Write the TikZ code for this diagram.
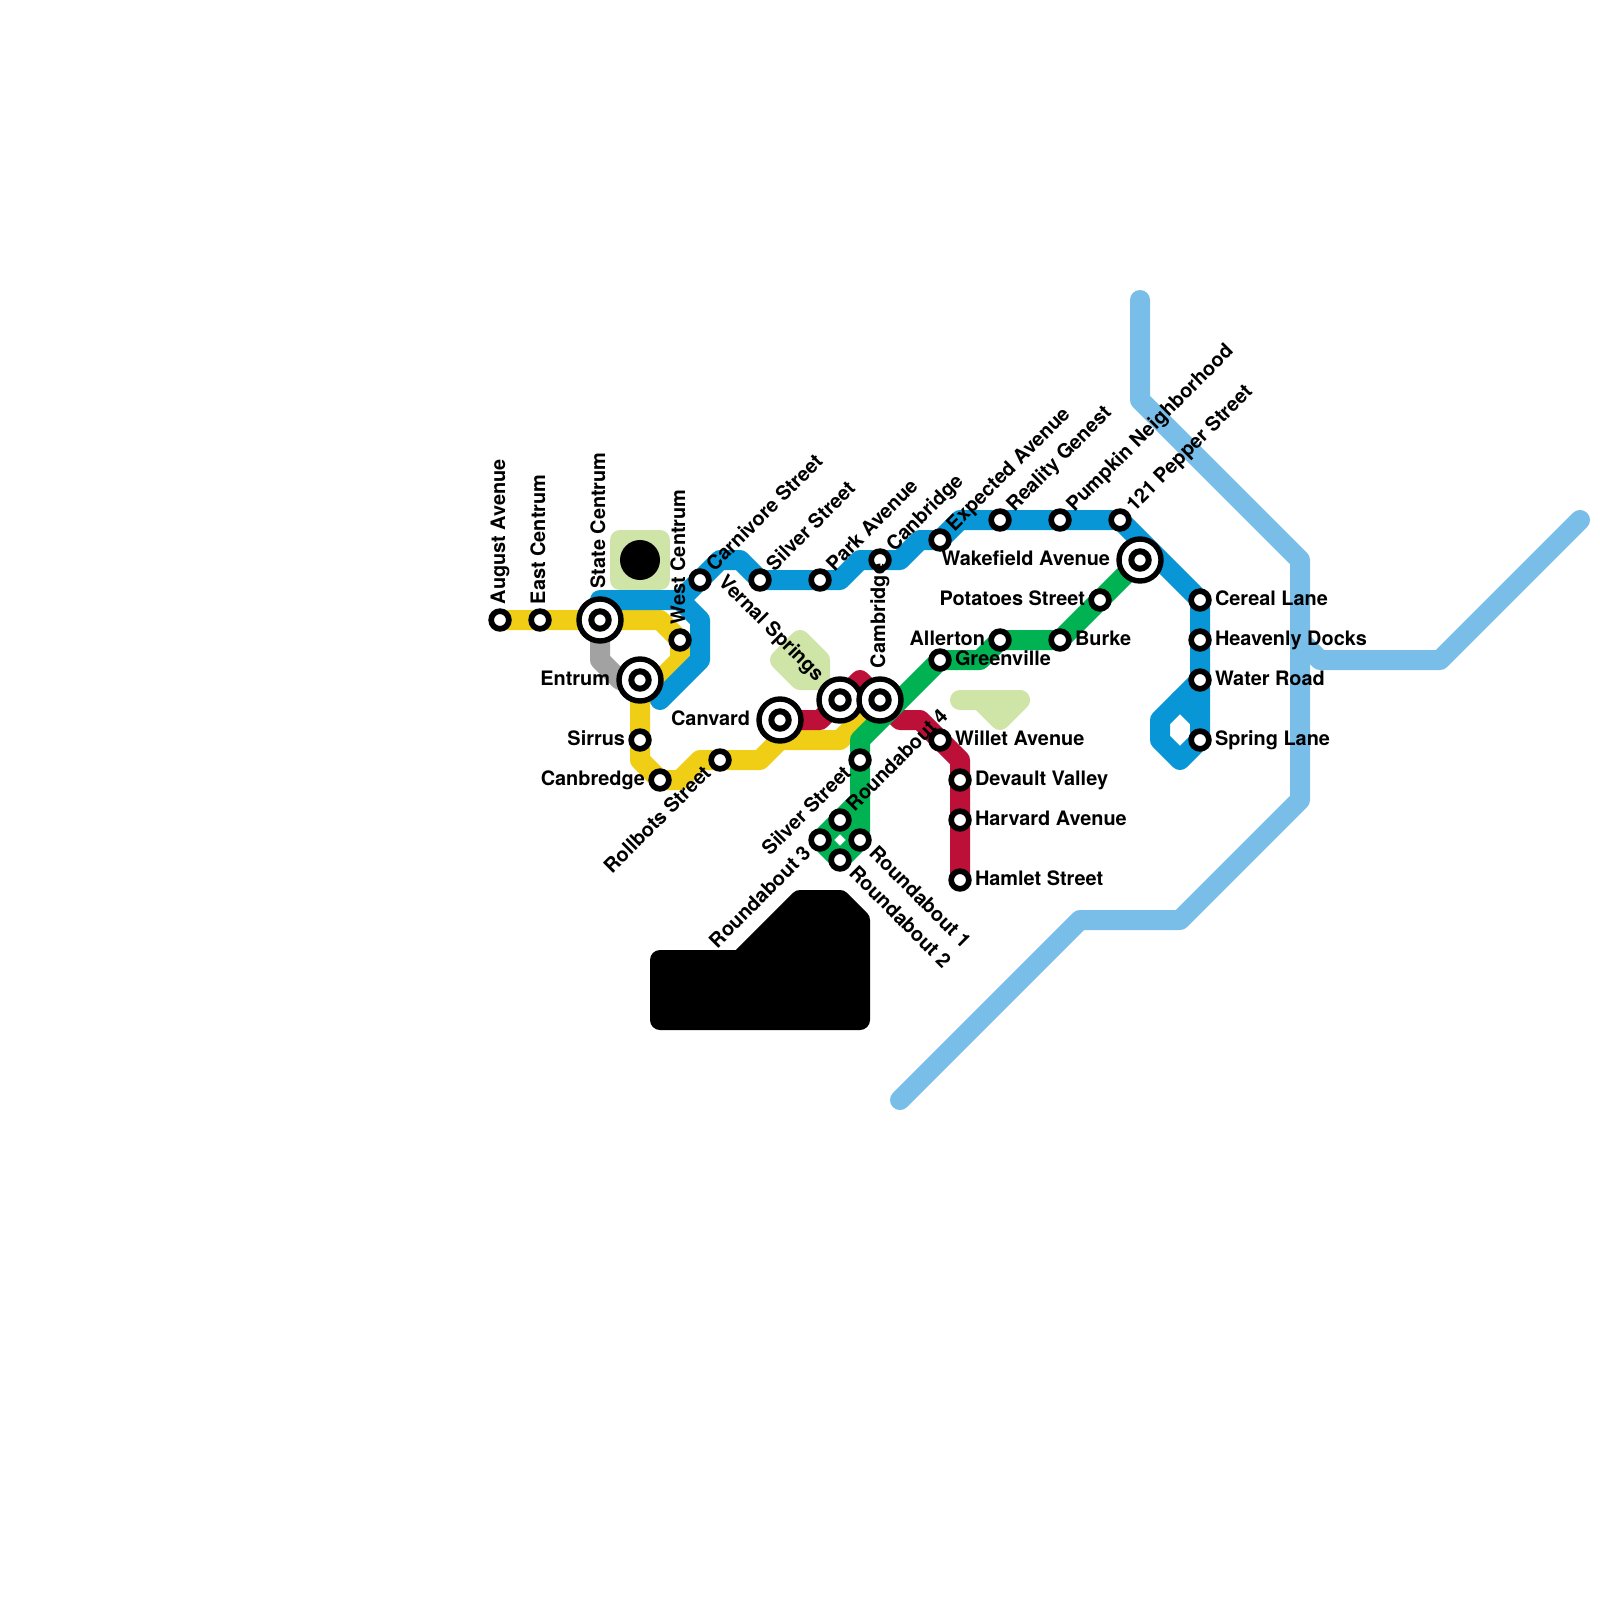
\documentclass[tikz,border=0pt]{standalone}
\usepackage{fontspec}
\setmainfont{TeX Gyre Heros}
\usetikzlibrary{backgrounds}
\definecolor{lineBlue}{HTML}{0896D7}
\definecolor{lineYellow}{HTML}{F0CE15}
\definecolor{lineRed}{HTML}{BD1038}
\definecolor{lineGreen}{HTML}{00B251}
\definecolor{lineGrey}{HTML}{A2A2A2}
\definecolor{riverBlue}{HTML}{79BDE9}
\definecolor{parkGreen}{HTML}{CFE4A7}

\begin{document}
\begin{tikzpicture}[
    x=0.5pt, y=-0.5pt,
    stn/.style={
        circle, draw=black, fill=white, line width=2.85pt,
        minimum size=8.85pt, inner sep=0pt
    },
    hub/.style={
        circle, draw=black, fill=white, line width=2.7pt,
        minimum size=21pt, inner sep=0pt
    },
    hubcore/.style={
        circle, draw=black, fill=white, line width=3pt,
        minimum size=8.7pt, inner sep=0pt
    },
    stnname/.style={
        font=\fontsize{9.95}{11}\selectfont\bfseries, text=black,
        inner sep=0pt, outer sep=0pt
    },
    namefwd/.style={stnname, anchor=base west},
    nameback/.style={stnname, anchor=base east},
    metro/.style={line width=10pt, line cap=round, line join=round},
    parkarea/.style={draw=parkGreen, fill=parkGreen, line width=10pt, line join=round},
]
\useasboundingbox (0,0) rectangle (1600,1600);

% ============================================================
%  STATIONS
% ============================================================
\node[stn] (august) at (500,620) {};
\node[stn] (eastC) at (540,620) {};
\node[hub] (stateC) at (600,620) {};
\node[hubcore] (stateCin) at (600,620) {};
\node[stn] (westC) at (680,640) {};
\node[hub] (entrum) at (640,680) {};
\node[hubcore] (entrumin) at (640,680) {};
\node[stn] (sirrus) at (640,740) {};
\node[stn] (canbredge) at (660,780) {};
\node[stn] (rollbots) at (720,760) {};
\node[hub] (canvard) at (780,720) {};
\node[hubcore] (canvardin) at (780,720) {};
\node[hub] (vernal) at (840,700) {};
\node[hubcore] (vernalin) at (840,700) {};
\node[hub] (cambridge) at (880,700) {};
\node[hubcore] (cambridgein) at (880,700) {};

\node[stn] (carnivore) at (700,580) {};
\node[stn] (silverN) at (760,580) {};
\node[stn] (park) at (820,580) {};
\node[stn] (canbridge) at (880,560) {};
\node[stn] (expected) at (940,540) {};
\node[stn] (reality) at (1000,520) {};
\node[stn] (pumpkin) at (1060,520) {};
\node[stn] (pepper) at (1120,520) {};
\node[hub] (wakefield) at (1140,560) {};
\node[hubcore] (wakefieldin) at (1140,560) {};
\node[stn] (cereal) at (1200,600) {};
\node[stn] (heavenly) at (1200,640) {};
\node[stn] (water) at (1200,680) {};
\node[stn] (spring) at (1200,740) {};

\node[stn] (potatoes) at (1100,600) {};
\node[stn] (burke) at (1060,640) {};
\node[stn] (allerton) at (1000,640) {};
\node[stn] (greenville) at (940,660) {};
\node[stn] (silverS) at (860,760) {};
\node[stn] (round4) at (840,820) {};
\node[stn] (round1) at (860,840) {};
\node[stn] (round2) at (840,860) {};
\node[stn] (round3) at (820,840) {};

\node[stn] (willet) at (940,740) {};
\node[stn] (devault) at (960,780) {};
\node[stn] (harvard) at (960,820) {};
\node[stn] (hamlet) at (960,880) {};

% ============================================================
%  STATION NAMES
% ============================================================
\node[namefwd, rotate=90] (augustL) at (505,604) {August Avenue};
\node[namefwd, rotate=90] (eastCL) at (545,604) {East Centrum};
\node[namefwd, rotate=90] (stateCL) at (605,588.5) {State Centrum};
\node[namefwd, rotate=90] (westCL) at (685,624) {West Centrum};
\node[namefwd, rotate=90] (cambridgeL) at (885,668) {Cambridge};

\node[namefwd, rotate=45] (carnivoreL) at (714.5,572) {Carnivore Street};
\node[namefwd, rotate=45] (silverNL) at (774.5,572) {Silver Street};
\node[namefwd, rotate=45] (parkL) at (834.5,572) {Park Avenue};
\node[namefwd, rotate=45] (canbridgeL) at (894.5,552) {Canbridge};
\node[namefwd, rotate=45] (expectedL) at (954.5,532) {Expected Avenue};
\node[namefwd, rotate=45] (realityL) at (1014.5,512) {Reality Genest};
\node[namefwd, rotate=45] (pumpkinL) at (1074.5,512) {Pumpkin Neighborhood};
\node[namefwd, rotate=45] (pepperL) at (1134.5,512) {121 Pepper Street};
\node[namefwd, rotate=45] (round4L) at (854.5,812) {Roundabout 4};

\node[nameback, rotate=45] (rollbotsL) at (712,774.5) {Rollbots Street};
\node[nameback, rotate=45] (silverSL) at (852,774.5) {Silver Street};
\node[nameback, rotate=45] (round3L) at (812,854.5) {Roundabout 3};

\node[namefwd, rotate=-45] (round1L) at (868,854.5) {Roundabout 1};
\node[namefwd, rotate=-45] (round2L) at (848,874.5) {Roundabout 2};
\node[nameback, rotate=-45] (vernalL) at (816,682) {Vernal Springs};

\node[nameback] (entrumL) at (610,685) {Entrum};
\node[nameback] (sirrusL) at (625,745) {Sirrus};
\node[nameback] (canbredgeL) at (645,785) {Canbredge};
\node[nameback] (canvardL) at (750,725) {Canvard};
\node[nameback] (wakefieldL) at (1110,565) {Wakefield Avenue};
\node[nameback] (potatoesL) at (1085,605) {Potatoes Street};
\node[nameback] (allertonL) at (985,645) {Allerton};

\node[namefwd] (burkeL) at (1075,645) {Burke};
\node[namefwd] (greenvilleL) at (955,665) {Greenville};
\node[namefwd] (willetL) at (955,745) {Willet Avenue};
\node[namefwd] (devaultL) at (975,785) {Devault Valley};
\node[namefwd] (harvardL) at (975,825) {Harvard Avenue};
\node[namefwd] (hamletL) at (975,885) {Hamlet Street};
\node[namefwd] (cerealL) at (1215,605) {Cereal Lane};
\node[namefwd] (heavenlyL) at (1215,645) {Heavenly Docks};
\node[namefwd] (waterL) at (1215,685) {Water Road};
\node[namefwd] (springL) at (1215,745) {Spring Lane};

% ============================================================
%  BENDS
% ============================================================
\coordinate (yA) at (660,620);
\coordinate (yB) at (680,660);
\coordinate (yI) at (640,700);
\coordinate (yC) at (640,760);
\coordinate (yD) at (680,780);
\coordinate (yE) at (700,760);
\coordinate (yF) at (760,760);
\coordinate (yG) at (780,740);
\coordinate (yH) at (840,740);
\coordinate (bA) at (600,600);
\coordinate (bB) at (680,600);
\coordinate (bC) at (700,620);
\coordinate (bD) at (700,660);
\coordinate (bE) at (660,700);
\coordinate (bF) at (720,560);
\coordinate (bG) at (740,560);
\coordinate (bH) at (840,580);
\coordinate (bI) at (860,560);
\coordinate (bJ) at (900,560);
\coordinate (bK) at (920,540);
\coordinate (bL) at (960,520);
\coordinate (bM) at (1160,720);
\coordinate (bN) at (1160,740);
\coordinate (bO) at (1180,760);
\coordinate (bP) at (1180,700);
\coordinate (bQ) at (1200,720);
\coordinate (rA) at (820,720);
\coordinate (rB) at (860,680);
\coordinate (rC) at (900,720);
\coordinate (rD) at (920,720);
\coordinate (rE) at (960,760);
\coordinate (gA) at (980,660);
\coordinate (gB) at (860,740);
\coordinate (gC) at (860,800);
\coordinate (aA) at (600,660);
\coordinate (aB) at (620,680);

% ============================================================
%  LINES
% ============================================================
\begin{scope}[on background layer]
    % water
    \draw[metro, riverBlue] (1140,300) -- (1140,400) -- (1300,560) -- (1300,800)
        -- (1180,920) -- (1080,920) -- (900,1100);
    \draw[metro, riverBlue] (1300,640) -- (1320,660) -- (1440,660) -- (1580,520);

    % parks
    \draw[parkarea] (620,540) -- (660,540) -- (660,580) -- (620,580) -- cycle;
    \draw[parkarea] (800,640) -- (820,660) -- (820,680) -- (800,680) -- (780,660) -- cycle;
    \draw[parkarea] (960,700) -- (1020,700) -- (1000,720) -- (980,700) -- cycle;
    \fill[black] (640,560) circle (20);
    \draw[black, fill=black, line width=10pt, line join=round] (660,960) -- (740,960)
        -- (800,900) -- (840,900) -- (860,920) -- (860,1020) -- (660,1020) -- cycle;

    % grey
    \draw[metro, lineGrey] (stateC.center) -- (aA) -- (aB) -- (entrum.center);

    % yellow
    \draw[metro, lineYellow] (august.center) -- (eastC.center) -- (stateC.center) -- (yA)
        -- (westC.center) -- (yB) -- (yI) -- (sirrus.center) -- (yC)
        -- (canbredge.center) -- (yD) -- (yE) -- (rollbots.center) -- (yF) -- (yG)
        -- (yH) -- (cambridge.center);

    % red
    \draw[metro, lineRed] (canvard.center) -- (rA) -- (vernal.center) -- (rB)
        -- (cambridge.center) -- (rC) -- (rD) -- (willet.center) -- (rE)
        -- (devault.center) -- (harvard.center) -- (hamlet.center);

    % blue
    \draw[metro, lineBlue] (stateC.center) -- (bA) -- (bB) -- (bC) -- (bD) -- (bE);
    \draw[metro, lineBlue] (bB) -- (carnivore.center) -- (bF) -- (bG) -- (silverN.center)
        -- (park.center) -- (bH) -- (bI) -- (canbridge.center) -- (bJ) -- (bK)
        -- (expected.center) -- (bL) -- (reality.center) -- (pumpkin.center)
        -- (pepper.center) -- (cereal.center) -- (heavenly.center)
        -- (water.center) -- (spring.center) -- (bO) -- (bN) -- (bM) -- (water.center);
    \draw[metro, lineBlue] (bP) -- (bQ);

    % green
    \draw[metro, lineGreen] (wakefield.center) -- (potatoes.center) -- (burke.center)
        -- (allerton.center) -- (gA) -- (greenville.center)
        -- (gB) -- (silverS.center) -- (gC) -- (round1.center) -- (round2.center)
        -- (round3.center) -- (round4.center) -- (round1.center);
    \draw[metro, lineGreen] (gC) -- (round4.center);
\end{scope}

\end{tikzpicture}
\end{document}
